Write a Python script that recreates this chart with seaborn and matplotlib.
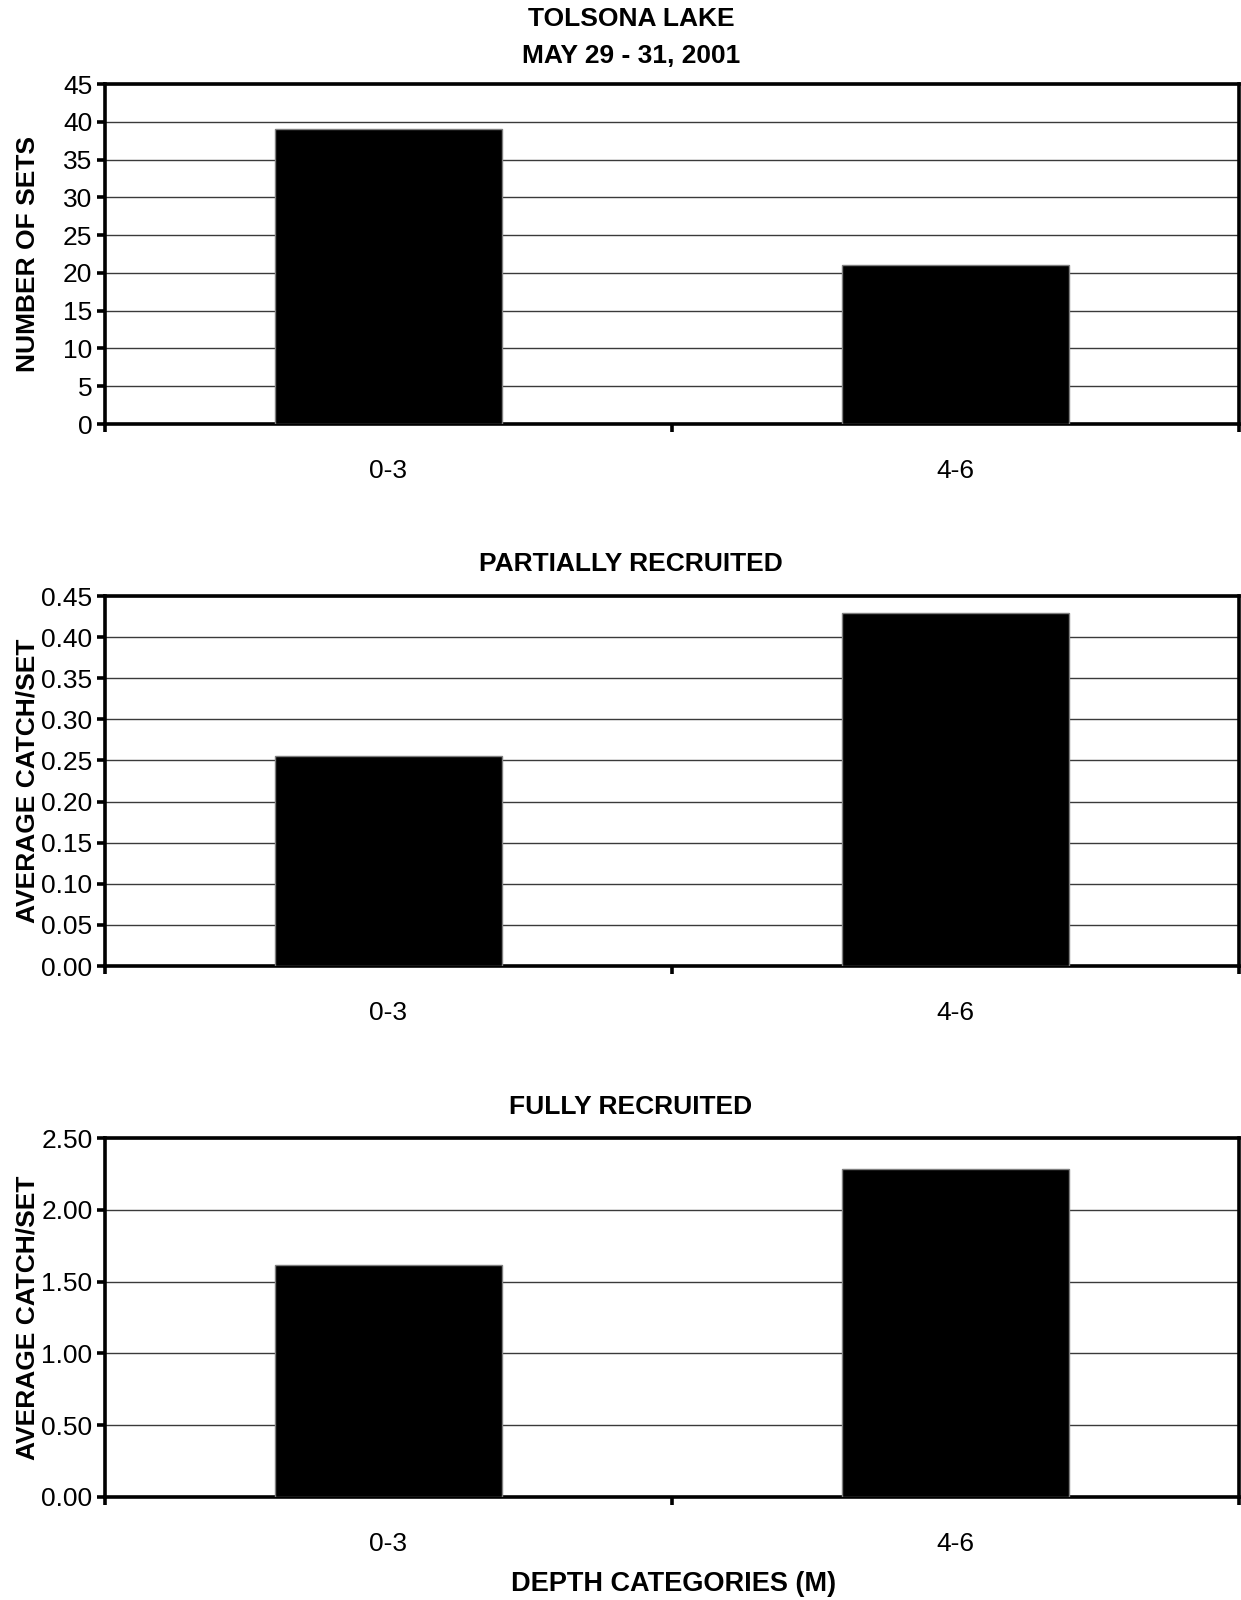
import matplotlib
matplotlib.use("Agg")
import matplotlib.pyplot as plt
import seaborn as sns
import pandas as pd
import numpy as np

categories = ["0-3", "4-6"]
n_sets = [39, 21]
partial_cps = [0.256, 0.429]
full_cps = [1.615, 2.286]

titles = ["TOLSONA LAKE", "MAY 29 - 31, 2001", "PARTIALLY RECRUITED", "FULLY RECRUITED"]
ylabels = ["NUMBER OF SETS", "AVERAGE CATCH/SET", "AVERAGE CATCH/SET"]
ymax = [45, 0.45, 2.5]
ysteps = [5, 0.05, 0.5]
yfmt = ["{:.0f}", "{:.2f}", "{:.2f}"]
xlabel = "DEPTH CATEGORIES (M)"

sns.set_theme(style="white")
plt.rcParams["font.family"] = ["Liberation Sans", "DejaVu Sans"]
for k in ["text.color", "axes.labelcolor", "xtick.color", "ytick.color"]:
    plt.rcParams[k] = "black"

FS = 19
W, H = 1241, 1600
fig = plt.figure(figsize=(W / 100, H / 100), dpi=100)

# axes rectangles in pixels: (left, top, right, bottom)
rects = [(105, 84, 1239, 424), (105, 596, 1239, 966), (105, 1138, 1239, 1497)]

series = [n_sets, partial_cps, full_cps]
for i, (vals, r) in enumerate(zip(series, rects)):
    l, t, rr, b = r
    ax = fig.add_axes([l / W, 1 - b / H, (rr - l) / W, (b - t) / H])
    df = pd.DataFrame({"cat": categories, "val": vals})
    sns.barplot(data=df, x="cat", y="val", color="black", width=0.4,
                edgecolor="#7f7f7f", linewidth=1, saturation=1, ax=ax, zorder=3)
    ax.set_xlim(-0.5, 1.5)
    ax.set_ylim(0, ymax[i])
    ticks = np.round(np.arange(0, ymax[i] + ysteps[i] / 2, ysteps[i]), 4)
    ax.set_yticks(ticks)
    ax.set_yticklabels([yfmt[i].format(v) for v in ticks])
    ax.yaxis.grid(True, color="#3a3a3a", linewidth=1.0, zorder=0)
    ax.xaxis.grid(False)
    ax.set_axisbelow(True)
    for s in ax.spines.values():
        s.set_visible(True)
        s.set_color("black")
        s.set_linewidth(2.6)
    ax.set_xticks([0, 1])
    ax.set_xticklabels(categories)
    ax.set_xticks([-0.5, 0.5, 1.5], minor=True)
    ax.tick_params(axis="x", which="major", length=0, pad=25, labelsize=FS, colors="black")
    ax.tick_params(axis="x", which="minor", bottom=True, length=6, width=2.6, direction="out", color="black")
    ax.tick_params(axis="y", which="major", left=True, length=6, width=2.6, direction="out",
                   pad=3, labelsize=FS, colors="black")
    ax.set_xlabel("")
    ax.set_ylabel("")
    cy = 1 - (t + b) / 2 / H
    fig.text(28 / W, cy, ylabels[i], rotation=90, ha="center", va="center",
             fontsize=FS, fontweight="bold")

TX = 631 / W
fig.text(TX, 1 - 19 / H, titles[0], ha="center", va="center", fontsize=FS, fontweight="bold")
fig.text(TX, 1 - 56 / H, titles[1], ha="center", va="center", fontsize=FS, fontweight="bold")
fig.text(TX, 1 - 564 / H, titles[2], ha="center", va="center", fontsize=FS, fontweight="bold")
fig.text(TX, 1 - 1107 / H, titles[3], ha="center", va="center", fontsize=FS, fontweight="bold")
fig.text(674 / W, 1 - 1584 / H, xlabel, ha="center", va="center", fontsize=19.5, fontweight="bold")

fig.savefig("out.png", dpi=100, facecolor="white")
